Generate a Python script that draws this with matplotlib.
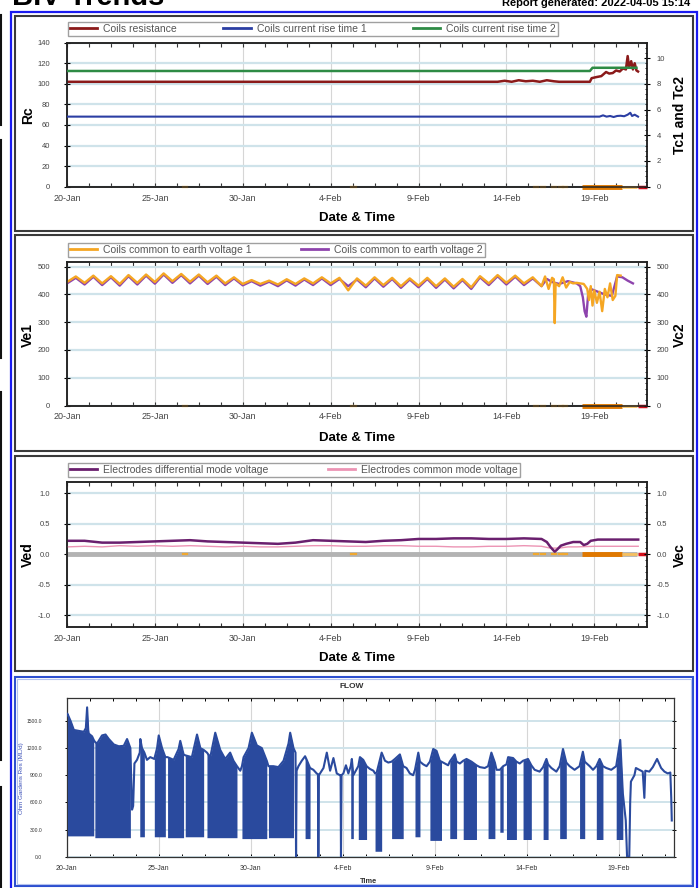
import numpy as np
import matplotlib.pyplot as plt
from matplotlib.patches import Rectangle
from matplotlib.lines import Line2D
from matplotlib.ticker import MultipleLocator, FormatStrFormatter

plt.rcParams['font.family'] = ['Liberation Sans', 'DejaVu Sans']
plt.rcParams['axes.unicode_minus'] = False

# =========================
# Data (x = days since 20-Jan)
# =========================
day_ticks = [0, 5, 10, 15, 20, 25, 30]
day_labels = ["20-Jan", "25-Jan", "30-Jan", "4-Feb", "9-Feb", "14-Feb", "19-Feb"]

# panel 1 - coils resistance (left) and rise times (right)
rc_day = [0, 24.5, 24.9, 25.3, 25.7, 26.1, 26.5, 26.9, 27.3, 27.7, 28.0,
          29.75, 29.85, 30.1, 30.4, 30.67, 30.85, 31.05, 31.24, 31.45, 31.63,
          31.8, 31.9, 31.98, 32.1, 32.2, 32.3, 32.4, 32.49]
rc_val = [102, 102, 103, 102, 103.5, 102.5, 103, 102, 103.5, 102.5, 102,
          102, 105.5, 106.5, 107.5, 111.5, 110, 110.5, 113, 112, 115,
          114, 127, 116, 122, 114, 120, 113, 112]
tc1_day = [0, 30.3, 30.5, 30.7, 30.9, 31.1, 31.3, 31.5, 31.7, 31.9, 32.05, 32.15, 32.3, 32.49]
tc1_val = [5.45, 5.45, 5.55, 5.45, 5.5, 5.42, 5.5, 5.52, 5.48, 5.6, 5.75, 5.5, 5.6, 5.45]
tc2_day = [0, 29.75, 29.9, 32.4]
tc2_val = [9.0, 9.0, 9.25, 9.25]

# panel 2 - coils common to earth voltage (half-day samples, then tail)
ve_grid = np.arange(0, 27.01, 0.5)
ve1_main = [445, 465, 442, 468, 440, 466, 438, 470, 442, 472,
            445, 476, 448, 474, 446, 472, 444, 468, 440, 462,
            438, 452, 438, 450, 436, 455, 438, 458, 440, 462,
            440, 460, 415, 458, 432, 462, 434, 460, 430, 458,
            432, 460, 430, 458, 428, 456, 426, 466, 440, 470,
            442, 468, 440, 462, 430]
ve1_tail_day = [27.2, 27.4, 27.6, 27.7, 27.75, 27.8, 28.0, 28.2, 28.4, 28.6,
                28.8, 29.0, 29.2, 29.4, 29.6, 29.7, 29.8, 29.9, 30.0, 30.15,
                30.3, 30.45, 30.6, 30.75, 30.9, 31.05, 31.2, 31.3, 31.5]
ve1_tail_val = [465, 420, 460, 455, 297, 440, 430, 462, 425, 445,
                440, 442, 440, 438, 420, 380, 430, 360, 415, 370,
                410, 340, 420, 390, 440, 380, 395, 470, 468]
ve2_main = [440, 460, 436, 464, 434, 462, 432, 466, 436, 468,
            439, 472, 442, 470, 440, 468, 438, 464, 434, 458,
            433, 448, 432, 446, 430, 451, 432, 454, 434, 458,
            434, 456, 430, 454, 426, 458, 428, 456, 424, 454,
            426, 456, 424, 454, 422, 452, 420, 462, 434, 466,
            436, 464, 434, 458, 430]
ve2_tail_day = [27.3, 27.6, 28.0, 28.5, 29.0, 29.2, 29.35, 29.45, 29.55,
                29.65, 29.8, 30.2, 30.6, 31.0, 31.3, 31.6, 31.9, 32.2]
ve2_tail_val = [456, 445, 438, 448, 440, 430, 390, 340, 320,
                400, 420, 410, 400, 395, 465, 462, 450, 440]

# panel 3 - electrodes voltages
ved_day = [0, 1, 2, 3, 4, 5, 6, 7, 8, 9, 10, 11, 12, 13, 14, 15, 16, 17, 18, 19,
           20, 21, 22, 23, 24, 25, 26, 27, 27.3, 27.5, 27.75, 27.9, 28.1, 28.4,
           28.8, 29.2, 29.4, 29.6, 29.8, 30.2, 31.0, 32.0, 32.5]
ved_val = [0.22, 0.22, 0.19, 0.19, 0.20, 0.21, 0.22, 0.23, 0.21, 0.20, 0.19, 0.18,
           0.17, 0.19, 0.23, 0.22, 0.21, 0.20, 0.22, 0.23, 0.25, 0.25, 0.26, 0.26,
           0.25, 0.25, 0.26, 0.25, 0.20, 0.12, 0.04, 0.08, 0.14, 0.17, 0.20, 0.20,
           0.15, 0.17, 0.22, 0.24, 0.24, 0.24, 0.24]
vec_day = [0, 1, 2, 3, 4, 5, 6, 7, 8, 9, 10, 11, 12, 13, 14, 15, 16, 17, 18, 19,
           20, 21, 22, 23, 24, 25, 26, 27, 27.5, 28, 28.5, 29, 30, 31, 32.5]
vec_val = [0.12, 0.13, 0.12, 0.14, 0.13, 0.14, 0.13, 0.14, 0.13, 0.12, 0.13, 0.12,
           0.12, 0.13, 0.14, 0.14, 0.13, 0.13, 0.14, 0.14, 0.13, 0.13, 0.12, 0.12,
           0.13, 0.13, 0.14, 0.13, 0.10, 0.10, 0.12, 0.12, 0.13, 0.13, 0.13]

# status events drawn on the zero line
evt_day = [6.7, 16.3, 26.7, 27.1, 27.7, 28.1, 28.35]
evt_on = [29.3, 31.6]
evt_light = [31.6, 32.45]
evt_red = [32.5, 33.0]

# panel 4 - FLOW
flow_day = [0.0, 0.05, 0.22, 0.40, 0.67, 0.94, 1.05, 1.12, 1.18, 1.21, 1.39, 1.48,
            1.54, 1.66, 1.93, 2.12, 2.30, 2.57, 2.84, 3.11, 3.29, 3.47,
            3.56, 3.62, 3.69, 3.83, 3.98, 4.01, 4.10, 4.23, 4.37, 4.55,
            4.77, 4.92, 5.01, 5.19, 5.37, 5.49, 5.82, 6.09, 6.18, 6.36,
            6.45, 6.81, 7.09, 7.27, 7.45, 7.63, 7.81, 8.08, 8.35, 8.62, 8.89, 9.07, 9.26,
            9.44, 9.53, 9.62, 9.89, 10.07, 10.34, 10.61, 10.88,
            10.97, 11.24, 11.51, 11.79, 12.06, 12.15, 12.33,
            12.44, 12.47, 12.50, 12.60, 12.78, 12.96, 13.05, 13.23,
            13.41, 13.59, 13.66, 13.68, 13.71, 13.96, 14.14, 14.32, 14.50, 14.68, 14.86,
            14.89, 14.91, 14.94, 15.04, 15.18, 15.31, 15.44, 15.50, 15.58,
            15.85, 15.94, 16.12, 16.30, 16.48, 16.67, 16.76, 16.85, 17.12,
            17.30, 17.48, 17.66, 17.84, 18.11, 18.29, 18.47, 18.65, 18.83, 18.93, 19.11, 19.20,
            19.38, 19.56, 19.74, 19.92, 20.10, 20.28, 20.37, 20.55, 20.73, 20.82, 21.09, 21.19,
            21.37, 21.55, 21.73, 22.00, 22.27, 22.45, 22.72, 22.90, 23.08, 23.27, 23.36,
            23.54, 23.72, 23.90, 23.99, 24.26, 24.44, 24.62, 24.80, 25.07, 25.25,
            25.43, 25.70, 25.89, 26.07, 26.16, 26.34, 26.61, 26.79, 26.97, 27.15,
            27.33, 27.60, 27.87, 28.05, 28.15, 28.42, 28.60, 28.78, 28.96, 29.14,
            29.32, 29.59, 29.86, 30.08, 30.15, 30.22, 30.38, 30.45, 30.57, 30.62, 30.66,
            30.85, 30.93, 31.12, 31.30, 31.39, 31.44, 31.66, 31.85, 32.08, 32.30, 32.48,
            32.66, 32.80, 32.85, 32.88]
flow_val = [1560, 1580, 1500, 1400, 1390, 1380, 1420, 1650, 1400, 1360, 1330, 1290,
            1270, 1250, 1340, 1350, 1300, 1240, 1220, 1225, 1300, 1200,
            520, 560, 1030, 1070, 1150, 1300, 1200, 1150, 1070, 1100,
            1080, 1200, 1340, 1200, 1100, 1100, 1070, 1190, 1280, 1130,
            1120, 1100, 1350, 1200, 1180, 1150, 1100, 1370, 1180, 1080, 1150, 1060, 1000,
            950, 1000, 1100, 1200, 1370, 1230, 1200, 1060,
            1000, 1000, 990, 1060, 1250, 1370, 1200,
            1150, 0, 950, 1000, 1060, 1110, 1070, 980,
            960, 920, 910, 0, 900, 980, 1150, 950, 1090, 920, 900,
            900, 0, 900, 920, 1010, 920, 1000, 1080, 900,
            1000, 1100, 1070, 1000, 970, 950, 920, 930, 1150,
            1060, 1040, 1050, 1080, 1130, 1000, 980, 920, 900, 960, 1150, 1050,
            1020, 1000, 1050, 1190, 1170, 1060, 1050, 1030, 1010, 1050, 1130, 1050,
            1030, 1060, 1080, 1050, 1010, 990, 980, 1000, 1150, 1040, 960,
            960, 1000, 1020, 1100, 1090, 1050, 1030, 1060, 1080, 1010,
            960, 940, 990, 1080, 1020, 980, 940, 1000, 1190, 1040,
            1000, 960, 1000, 1160, 1050, 1000, 960, 1000, 1080, 1000,
            980, 960, 1000, 1290, 1000, 700, 400, 0, 0, 600, 830,
            900, 980, 960, 940, 650, 950, 940, 990, 1080, 980, 940,
            920, 930, 650, 400]
# periods where the flow flickers down to a low value
blk_start = [0.05, 1.54, 3.98, 4.77, 5.49, 6.45, 7.63, 9.53, 10.97, 12.96, 15.44, 15.85, 16.76, 17.66,
             18.93, 19.74, 20.82, 21.55, 22.90, 23.54, 23.90, 24.80, 25.89, 26.79, 27.87, 28.78, 29.86]
blk_end = [1.48, 3.47, 4.23, 5.37, 6.36, 7.45, 9.26, 10.88, 12.33, 13.23, 15.58, 16.30, 17.12, 18.29,
           19.20, 20.37, 21.19, 22.27, 23.27, 23.72, 24.44, 25.25, 26.16, 27.15, 28.15, 29.14, 30.22]
blk_low = [230, 210, 220, 220, 210, 220, 210, 200, 210, 200, 200, 190, 60, 200,
           220, 180, 200, 190, 200, 270, 190, 190, 190, 200, 200, 190, 190]

# =========================
# Colours
# =========================
RC_C = "#8b1a1a"
TC1_C = "#2b3ea3"
TC2_C = "#2e8b45"
VE1_C = "#f5a623"
VE2_C = "#8e44ad"
VED_C = "#6a1f6e"
VEC_C = "#ec94b4"
FLOW_C = "#2a4a9e"
TICK_C = "#444444"
GRID_H = "#cfe3ea"
GRID_V = "#d6d6d6"

# =========================
# Figure helpers (pixel layout)
# =========================
W, H = 699, 888
fig = plt.figure(figsize=(W / 100, H / 100), dpi=100)


def fx(x):
    return x / W


def fy(y):
    return 1 - y / H


def px_rect(l, t, r, b):
    return [l / W, 1 - b / H, (r - l) / W, (b - t) / H]


def frame(l, t, r, b, color, lw):
    fig.add_artist(Rectangle((fx(l), fy(b)), fx(r) - fx(l), fy(t) - fy(b), fill=False,
                             edgecolor=color, lw=lw, transform=fig.transFigure))


def style_axes(ax):
    ax.set_xlim(0, 33)
    ax.set_xticks(day_ticks)
    ax.set_xticklabels(day_labels)
    ax.xaxis.set_minor_locator(MultipleLocator(1.25))
    ax.tick_params(axis='x', which='both', direction='in', top=True, length=3, width=0.8,
                   color='#333', labelsize=6.5, labelcolor=TICK_C, pad=5)
    ax.tick_params(axis='y', which='major', direction='inout', length=4, width=0.8,
                   labelsize=5.5, labelcolor=TICK_C, pad=10)
    ax.grid(axis='y', color=GRID_H, lw=1.6)
    ax.grid(axis='x', color=GRID_V, lw=0.8)
    ax.set_axisbelow(True)
    for s in ax.spines.values():
        s.set_color('#222')
        s.set_linewidth(1.1)


def style_twin(ax2, lo, hi, step, minor):
    ax2.set_ylim(lo, hi)
    ax2.yaxis.set_major_locator(MultipleLocator(step))
    ax2.yaxis.set_minor_locator(MultipleLocator(minor))
    ax2.tick_params(axis='y', which='major', direction='inout', length=4, width=0.8,
                    labelsize=5.5, labelcolor=TICK_C, pad=5)
    ax2.tick_params(axis='y', which='minor', direction='in', length=1.5, width=0.6)
    for s in ax2.spines.values():
        s.set_color('#222')
        s.set_linewidth(1.1)


def draw_events(ax):
    for d in evt_day:
        ax.plot([d - 0.12, d + 0.12], [0, 0], color="#f0a830", lw=1.6, clip_on=False, zorder=6)
    ax.plot(evt_on, [0, 0], color="#e07800", lw=3.5, solid_capstyle="butt", clip_on=False, zorder=6)
    ax.plot(evt_light, [0, 0], color="#f6c060", lw=2, solid_capstyle="butt", clip_on=False, zorder=6)
    ax.plot(evt_red, [0, 0], color="#d4101c", lw=2.5, solid_capstyle="butt", clip_on=False, zorder=6)


def legend(ax, handles, labels, l, t, r, b):
    lg = ax.legend(handles, labels, loc='center', bbox_to_anchor=(fx(l), fy(b), fx(r) - fx(l), fy(t) - fy(b)),
                   bbox_transform=fig.transFigure, mode='expand', ncol=len(labels), fontsize=7.5,
                   frameon=True, fancybox=False, edgecolor='#888888', borderpad=0.2, borderaxespad=0,
                   handlelength=2.6, handletextpad=0.6, labelcolor='#555555')
    lg.get_frame().set_linewidth(1.0)


def side_labels(left, right, yc):
    fig.text(fx(28), fy(yc), left, rotation=90, ha='center', va='center', fontsize=10, fontweight='bold')
    fig.text(fx(680), fy(yc), right, rotation=90, ha='center', va='center', fontsize=10, fontweight='bold')


def hline(c):
    return Line2D([], [], color=c, lw=2)


# =========================
# Page decorations
# =========================
fig.text(fx(12), fy(5), "BIV Trends", fontsize=21, fontweight='bold', va='baseline', ha='left')
fig.text(fx(690), fy(6.5), "Report generated: 2022-04-05 15:14", fontsize=8, fontweight='bold',
         va='baseline', ha='right')
for y0, y1 in [(15, 125), (140, 358), (392, 760), (787, 888)]:
    fig.add_artist(Line2D([fx(1), fx(1)], [fy(y0), fy(y1)], color='#111111', lw=1.5))
frame(10.5, 12.5, 696.5, 895, '#1a1af0', 1.6)
frame(15, 16, 693, 231, '#3a3a3a', 1.5)
frame(15, 235, 693, 451, '#3a3a3a', 1.5)
frame(15, 456, 693, 671, '#3a3a3a', 1.5)
frame(15, 677, 693, 886, '#2d4fcf', 1.5)
frame(17, 679, 691, 884, '#b4c2ee', 0.8)

# =========================
# Panel 1
# =========================
ax1 = fig.add_axes(px_rect(67, 42.7, 647, 186.7))
style_axes(ax1)
ax1.set_ylim(0, 140)
ax1.yaxis.set_major_locator(MultipleLocator(20))
ax1.plot(rc_day, rc_val, color=RC_C, lw=1.8, zorder=3)
draw_events(ax1)
t1 = ax1.twinx()
style_twin(t1, 0, 11.2, 2, 0.4)
t1.plot(tc1_day, tc1_val, color=TC1_C, lw=1.5, zorder=3)
t1.plot(tc2_day, tc2_val, color=TC2_C, lw=1.8, zorder=3)
legend(t1, [hline(RC_C), hline(TC1_C), hline(TC2_C)],
       ["Coils resistance", "Coils current rise time 1", "Coils current rise time 2"], 68, 21.5, 558, 36)
fig.text(fx(357), fy(218), "Date & Time", ha='center', va='center', fontsize=9.5, fontweight='bold')
side_labels("Rc", "Tc1 and Tc2", 115)

# =========================
# Panel 2
# =========================
ax2 = fig.add_axes(px_rect(67, 262.3, 647, 405.5))
style_axes(ax2)
ax2.set_ylim(0, 516)
ax2.yaxis.set_major_locator(MultipleLocator(100))
ax2.plot(list(ve_grid) + ve2_tail_day, ve2_main + ve2_tail_val, color=VE2_C, lw=1.7, zorder=3)
ax2.plot(list(ve_grid) + ve1_tail_day, ve1_main + ve1_tail_val, color=VE1_C, lw=1.7, zorder=4)
draw_events(ax2)
t2 = ax2.twinx()
style_twin(t2, 0, 516, 100, 20)
legend(t2, [hline(VE1_C), hline(VE2_C)],
       ["Coils common to earth voltage 1", "Coils common to earth voltage 2"], 68, 243, 485, 257)
fig.text(fx(357), fy(438), "Date & Time", ha='center', va='center', fontsize=9.5, fontweight='bold')
side_labels("Ve1", "Vc2", 335)

# =========================
# Panel 3
# =========================
ax3 = fig.add_axes(px_rect(67, 481.7, 647, 626.7))
style_axes(ax3)
ax3.set_ylim(-1.19, 1.19)
ax3.yaxis.set_major_locator(MultipleLocator(0.5))
ax3.yaxis.set_major_formatter(FormatStrFormatter('%.1f'))
ax3.plot([0, 32.45], [0, 0], color='#b3b3b3', lw=3.5, solid_capstyle='butt', zorder=2)
ax3.plot(vec_day, vec_val, color=VEC_C, lw=1.0, zorder=3)
ax3.plot(ved_day, ved_val, color=VED_C, lw=1.8, zorder=4)
draw_events(ax3)
t3 = ax3.twinx()
style_twin(t3, -1.19, 1.19, 0.5, 0.1)
t3.yaxis.set_major_formatter(FormatStrFormatter('%.1f'))
legend(t3, [hline(VED_C), hline(VEC_C)],
       ["Electrodes differential mode voltage", "Electrodes common mode voltage"], 68, 462.5, 520, 477)
fig.text(fx(357), fy(658), "Date & Time", ha='center', va='center', fontsize=9.5, fontweight='bold')
side_labels("Ved", "Vec", 555)

# =========================
# Panel 4 - FLOW
# =========================
ax4 = fig.add_axes(px_rect(66.5, 698.3, 674, 856.7))
ax4.set_xlim(0, 33)
ax4.set_ylim(0, 1750)
ax4.set_xticks(day_ticks)
ax4.set_xticklabels(day_labels)
ax4.xaxis.set_minor_locator(MultipleLocator(1.25))
ax4.yaxis.set_major_locator(MultipleLocator(300))
ax4.yaxis.set_major_formatter(FormatStrFormatter('%.1f'))
ax4.tick_params(axis='x', which='both', direction='in', top=True, length=2.5, width=0.7,
                labelsize=5, labelcolor='#333', pad=6)
ax4.tick_params(axis='y', which='major', direction='inout', right=True, length=3, width=0.7,
                labelsize=3.6, labelcolor='#333', pad=16)
ax4.grid(axis='y', color=GRID_H, lw=1.4)
ax4.grid(axis='x', color=GRID_V, lw=0.8)
ax4.set_axisbelow(True)
for s in ax4.spines.values():
    s.set_color('#333')
    s.set_linewidth(0.9)

fd = np.array(flow_day)
fv = np.array(flow_val)
for s, e, lo in zip(blk_start, blk_end, blk_low):
    m = (fd >= s - 1e-6) & (fd <= e + 1e-6)
    ax4.fill_between(fd[m], lo, fv[m], color=FLOW_C, lw=0, zorder=3)
ax4.plot(fd, fv, color=FLOW_C, lw=1.5, zorder=4)

fig.text(fx(352), fy(686), "FLOW", ha='center', va='center', fontsize=6, fontweight='bold', color='#333')
fig.text(fx(369), fy(881), "Time", ha='center', va='center', fontsize=5.3, fontweight='bold', color='#333')
fig.text(fx(22), fy(778), "Ohm Gardens Res (ML/d)", rotation=90, ha='center', va='center',
         fontsize=4.5, color='#3a4fb8')

fig.savefig("out.png", dpi=100)
